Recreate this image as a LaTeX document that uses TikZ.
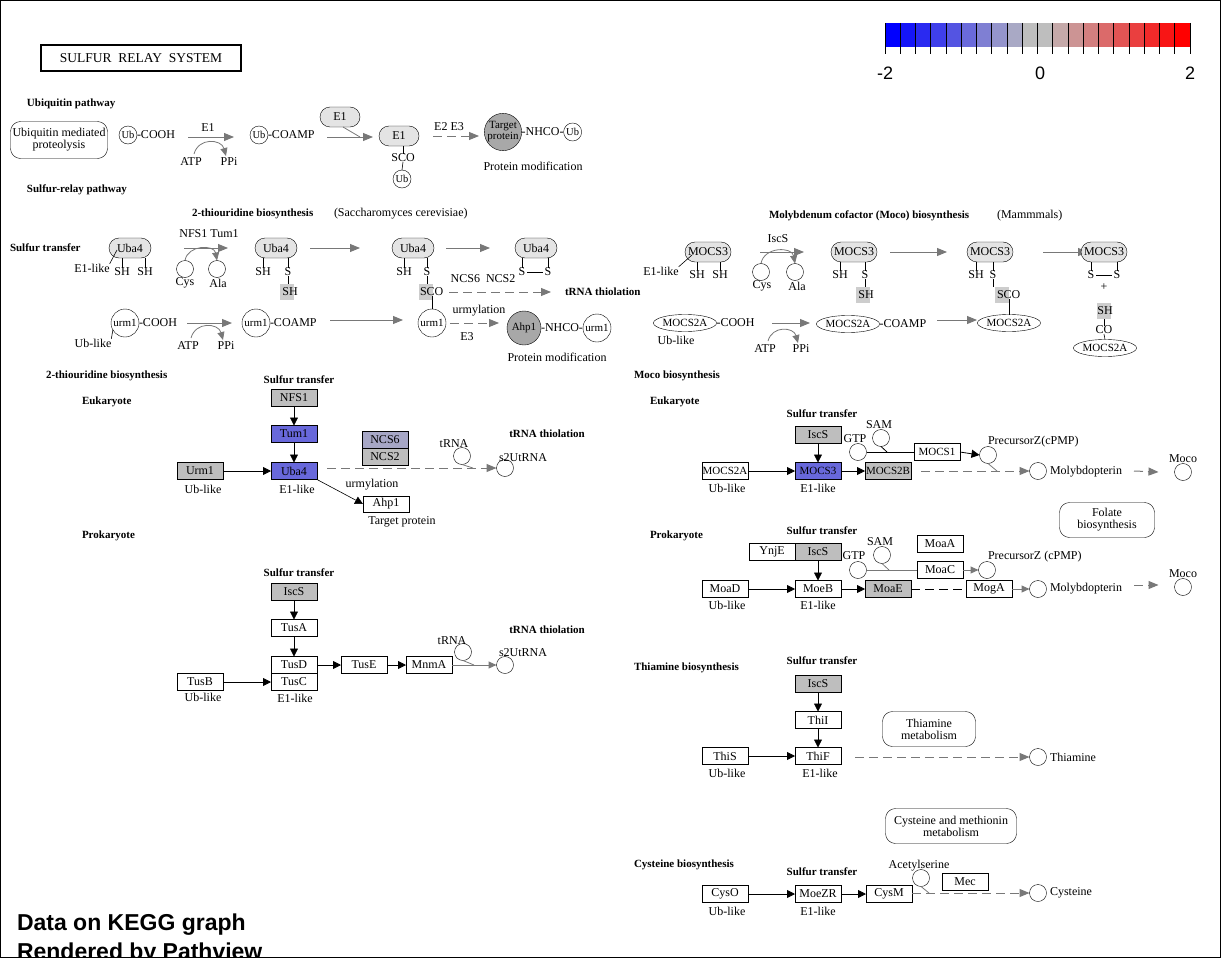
\documentclass[tikz,border=0pt]{standalone}
\usepackage{fontspec}
\setmainfont{Liberation Serif}
\newfontfamily\legendfont{Liberation Sans}
\usetikzlibrary{arrows.meta,shapes.misc,shapes.geometric,calc}

% colour scale of the gene data
\definecolor{kblue}{RGB}{0,0,255}
\definecolor{kgray}{RGB}{190,190,190}
\definecolor{kred}{RGB}{255,0,0}
\definecolor{linkgray}{RGB}{120,120,120}
\definecolor{pillgray}{RGB}{228,228,228}
\definecolor{ballgray}{RGB}{168,168,168}
\definecolor{siteshade}{RGB}{205,205,205}
\colorlet{geneblue}{kgray!55!kblue}
\colorlet{genepale}{kgray!88!kblue}

\newcommand\kfont{\fontsize{12}{12}\selectfont}
\newcommand\kmid{\fontsize{11}{11}\selectfont}
\newcommand\ksmall{\fontsize{10.5}{10.5}\selectfont}
\newcommand\kbold{\fontsize{11}{11}\selectfont\bfseries}

\tikzset{
  every node/.style={font=\kfont, inner sep=0pt, outer sep=0pt},
  gene/.style={draw, rectangle, minimum width=46pt, minimum height=17pt, fill=white},
  pill/.style={draw, rounded rectangle, minimum width=42pt, minimum height=20pt, fill=pillgray},
  cpd/.style={draw, circle, minimum size=17pt, fill=white},
  tagc/.style={draw, circle, minimum size=18pt, font=\ksmall},
  urmc/.style={draw, circle, minimum size=28pt, font=\kmid},
  bigball/.style={draw, circle, minimum size=34pt, fill=ballgray, font=\kmid, align=center},
  mocs/.style={draw, ellipse, minimum width=55pt, minimum height=17pt, font=\kmid},
  mapbox/.style={draw, rounded corners=10pt, minimum width=94pt, minimum height=34pt, align=center},
  hdr/.style={font=\kbold},
  site/.style={fill=siteshade, minimum width=14pt, minimum height=16pt},
  stem/.style={line width=0.6pt},
  rel/.style={-{Triangle[length=8pt,width=8pt]}, black, line width=0.8pt},
  flow/.style={-{Triangle[length=10pt,width=8pt]}, linkgray, line width=1pt},
  gflow/.style={-{Triangle[length=8pt,width=7pt]}, linkgray, line width=1pt},
  dflow/.style={flow, dash pattern=on 9pt off 5pt},
  curvy/.style={-{Triangle[length=8pt,width=7pt]}, linkgray, line width=0.8pt},
  joinline/.style={linkgray, line width=0.8pt},
}

\begin{document}
\begin{tikzpicture}[x=1pt,y=-1pt]
\useasboundingbox (0,0) rectangle (1221,958);

% ---------------- title and colour key ----------------
\node[draw, line width=1.5pt, minimum width=200pt, minimum height=26pt, font=\fontsize{13.5}{13.5}\selectfont] (title) at (141,58) {SULFUR\enspace RELAY\enspace SYSTEM};

\foreach \i in {1,...,20}{
  \pgfmathsetmacro\xa{885+(\i-1)*15.25}
  \pgfmathsetmacro\xb{\xa+15.25}
  \ifnum\i<11
    \pgfmathtruncatemacro\mixv{round((\i-1)*100/9)}
    \fill[kgray!\mixv!kblue] (\xa,23) rectangle (\xb,47);
  \else
    \pgfmathtruncatemacro\mixv{round((\i-11)*100/9)}
    \fill[kred!\mixv!kgray] (\xa,23) rectangle (\xb,47);
  \fi
}
\foreach \i in {0,...,20}{
  \pgfmathsetmacro\xa{885+\i*15.25}
  \draw[line width=0.8pt] (\xa,23) -- (\xa,54);
}
\node[font=\legendfont\fontsize{18}{18}\selectfont] (keylo) at (885,73) {-2};
\node[font=\legendfont\fontsize{18}{18}\selectfont] (keymid) at (1040,73) {0};
\node[font=\legendfont\fontsize{18}{18}\selectfont] (keyhi) at (1190,73) {2};

% ---------------- ubiquitin pathway ----------------
\node[hdr, anchor=west] (hubq) at (27,104) {Ubiquitin pathway};
\node[mapbox, minimum width=97pt, minimum height=37pt] (mapump) at (59,140) {Ubiquitin mediated\\proteolysis};
\node[tagc] (ub1) at (128,135) {Ub};
\node[anchor=west] (ub1t) at (ub1.east) {-COOH};
\coordinate (ua1) at (188,137);
\coordinate (ua2) at (234,137);
\draw[flow] (ua1) -- (ua2);
\node (ue1) at (208,128) {E1};
\node (uatp) at (191,162) {ATP};
\node (uppi) at (229,162) {PPi};
\draw[curvy] ($(uatp.north)+(3,-4)$) to[out=75,in=105,looseness=1.4] ($(uppi.north)+(-3,-2)$);
\node[tagc] (ub2) at (259,135) {Ub};
\node[anchor=west] (ub2t) at (ub2.east) {-COAMP};
\coordinate (ua3) at (327,137);
\coordinate (ua4) at (373,137);
\draw[flow] (ua3) -- (ua4);
\node[pill, minimum width=40pt] (ue1p) at (340,117) {E1};
\coordinate (ua5) at (360,137);
\draw[joinline] ($(ue1p.south)+(3,0)$) -- (ua5);
\node[pill, minimum width=40pt] (ue1q) at (399,136) {E1};
\node (usco) at (403,158) {SCO};
\node[tagc] (ub3) at (402,179) {Ub};
\draw[stem] (ue1q.south -| usco) -- (usco.north);
\draw[stem] (usco.south) -- (ub3.north);
\coordinate (ua6) at (433,136);
\coordinate (ua7) at (479,136);
\draw[dflow] (ua6) -- (ua7);
\node (ue23) at (449,127) {E2 E3};
\node[bigball] (utgt) at (503,132) {Target\\protein};
\node[anchor=west] (unhco) at (utgt.east) {-NHCO-};
\node[tagc, anchor=west] (ub4) at (unhco.east) {Ub};
\node (upmod) at (533,166) {Protein modification};

\node[hdr, anchor=west] (hsrp) at (27,190) {Sulfur-relay pathway};

% ---------------- 2-thiouridine biosynthesis (scheme) ----------------
\node[hdr, anchor=west] (h2ta) at (192,214) {2-thiouridine biosynthesis};
\node[anchor=west] (h2tb) at (334,214) {(Saccharomyces cerevisiae)};
\node[hdr, anchor=west] (hstu) at (10,248) {Sulfur transfer};

\node[pill] (tu1) at (130,248) {Uba4};
\node (tu1sa) at (122,272) {SH};
\node (tu1sb) at (145,272) {SH};
\draw[stem] (tu1.south -| tu1sa) -- (tu1sa.north);
\draw[stem] (tu1.south -| tu1sb) -- (tu1sb.north);
\node (tu1el) at (92,268) {E1-like};
\draw[stem] (tu1el.north east) -- ($(tu1.west)+(8,2)$);

\node (tnt) at (209,234) {NFS1 Tum1};
\coordinate (tf1a) at (184,248);
\coordinate (tf1b) at (228,248);
\draw[flow] (tf1a) -- (tf1b);
\node[cpd] (tcys) at (185,269) {};
\node[cpd] (tala) at (217,269) {};
\node (tcysl) at (185,283) {Cys};
\node (talal) at (218,283) {Ala};
\draw[curvy] (tcys.north) to[out=80,in=100,looseness=1.3] (tala.north);

\node[pill] (tu2) at (276,248) {Uba4};
\node (tu2sa) at (263,272) {SH};
\node (tu2sb) at (288,272) {S};
\draw[stem] (tu2.south -| tu2sa) -- (tu2sa.north);
\draw[stem] (tu2.south -| tu2sb) -- (tu2sb.north);
\node[site] (tu2hl) at (287,292) {};
\node (tu2sh) at (290,292) {SH};
\draw[stem] (tu2sb.south) -- (tu2hl.north -| tu2sb);

\coordinate (tf2a) at (310,248);
\coordinate (tf2b) at (360,248);
\draw[flow] (tf2a) -- (tf2b);

\node[pill] (tu3) at (413,248) {Uba4};
\node (tu3sa) at (404,272) {SH};
\node (tu3sb) at (427,272) {S};
\draw[stem] (tu3.south -| tu3sa) -- (tu3sa.north);
\draw[stem] (tu3.south -| tu3sb) -- (tu3sb.north);
\node[site] (tu3hl) at (426,292) {};
\node[anchor=west] (tu3sco) at (420,292) {SCO};
\draw[stem] (tu3sb.south) -- (tu3hl.north -| tu3sb);

\coordinate (tf3a) at (446,248);
\coordinate (tf3b) at (490,248);
\draw[flow] (tf3a) -- (tf3b);

\node[pill] (tu4) at (536,248) {Uba4};
\node (tu4sa) at (522,272) {S};
\node (tu4sb) at (548,272) {S};
\draw[stem] (tu4.south -| tu4sa) -- (tu4sa.north);
\draw[stem] (tu4.south -| tu4sb) -- (tu4sb.north);
\draw[stem] ($(tu4sa.east)+(2,0)$) -- ($(tu4sb.west)+(-2,0)$);

\node (tncs) at (483,279) {NCS6\enspace NCS2};
\coordinate (tf4a) at (449,292);
\coordinate (tf4b) at (551,292);
\draw[dflow] (tf4a) -- (tf4b);
\node[hdr, anchor=west] (htrna0) at (565,292) {tRNA thiolation};

\node[urmc] (tr1) at (125,323) {urm1};
\node[anchor=west] (tr1t) at (tr1.east) {-COOH};
\node (tr1ul) at (93,343) {Ub-like};
\draw[stem] (tr1ul.north east) -- (tr1.210);
\coordinate (tf5a) at (187,323);
\coordinate (tf5b) at (232,323);
\draw[flow] (tf5a) -- (tf5b);
\node (tatp) at (188,346) {ATP};
\node (tppi) at (226,346) {PPi};
\draw[curvy] ($(tatp.north)+(3,-4)$) to[out=75,in=105,looseness=1.4] ($(tppi.north)+(-3,-2)$);
\node[urmc] (tr2) at (256,323) {urm1};
\node[anchor=west] (tr2t) at (tr2.east) {-COAMP};
\coordinate (tf6a) at (330,320);
\coordinate (tf6b) at (403,320);
\draw[flow] (tf6a) -- (tf6b);
\node[urmc] (tr3) at (432,323) {urm1};
\draw[stem] (tu3sco.south -| tr3) -- (tr3.north);
\node (turm) at (479,311) {urmylation};
\coordinate (tf7a) at (450,323);
\coordinate (tf7b) at (499,323);
\draw[dflow] (tf7a) -- (tf7b);
\node (te3) at (467,337) {E3};
\node[bigball] (tahp) at (524,328) {Ahp1};
\node[anchor=west] (tnhco) at (tahp.east) {-NHCO-};
\node[urmc, anchor=west] (tr4) at (tnhco.east) {urm1};
\node (tpmod) at (557,357) {Protein modification};

% ---------------- Moco biosynthesis (scheme) ----------------
\node[hdr, anchor=west] (hmoa) at (769,216) {Molybdenum cofactor (Moco) biosynthesis};
\node[anchor=west] (hmob) at (997,216) {(Mammmals)};

\node[pill, minimum width=46pt] (mu1) at (708,252) {MOCS3};
\node (mu1sa) at (697,275) {SH};
\node (mu1sb) at (720,275) {SH};
\draw[stem] (mu1.south -| mu1sa) -- (mu1sa.north);
\draw[stem] (mu1.south -| mu1sb) -- (mu1sb.north);
\node (mu1el) at (661,271) {E1-like};
\draw[stem] (mu1el.north east) -- ($(mu1.west)+(7,3)$);

\node (misc) at (778,239) {IscS};
\coordinate (mf1a) at (760,252);
\coordinate (mf1b) at (804,252);
\draw[flow] (mf1a) -- (mf1b);
\node[cpd] (mcys) at (761,272) {};
\node[cpd] (mala) at (795,272) {};
\node (mcysl) at (762,286) {Cys};
\node (malal) at (797,286) {Ala};
\draw[curvy] (mcys.north) to[out=80,in=100,looseness=1.3] (mala.north);

\node[pill, minimum width=46pt] (mu2) at (854,252) {MOCS3};
\node (mu2sa) at (840,275) {SH};
\node (mu2sb) at (865,275) {S};
\draw[stem] (mu2.south -| mu2sa) -- (mu2sa.north);
\draw[stem] (mu2.south -| mu2sb) -- (mu2sb.north);
\node[site] (mu2hl) at (863,295) {};
\node (mu2sh) at (866,295) {SH};
\draw[stem] (mu2sb.south) -- (mu2hl.north -| mu2sb);

\coordinate (mf2a) at (890,252);
\coordinate (mf2b) at (947,252);
\draw[flow] (mf2a) -- (mf2b);

\node[pill, minimum width=46pt] (mu3) at (990,252) {MOCS3};
\node (mu3sa) at (976,275) {SH};
\node (mu3sb) at (993,275) {S};
\draw[stem] (mu3.south -| mu3sa) -- (mu3sa.north);
\draw[stem] (mu3.south -| mu3sb) -- (mu3sb.north);
\node[site] (mu3hl) at (1002,295) {};
\node[anchor=west] (mu3sco) at (997,295) {SCO};
\draw[stem] (mu3sb.south) -- (mu3hl.north -| mu3sb);

\coordinate (mf3a) at (1043,252);
\coordinate (mf3b) at (1088,252);
\draw[flow] (mf3a) -- (mf3b);

\node[pill, minimum width=46pt] (mu4) at (1104,252) {MOCS3};
\node (mu4sa) at (1091,275) {S};
\node (mu4sb) at (1117,275) {S};
\draw[stem] (mu4.south -| mu4sa) -- (mu4sa.north);
\draw[stem] (mu4.south -| mu4sb) -- (mu4sb.north);
\draw[stem] ($(mu4sa.east)+(2,0)$) -- ($(mu4sb.west)+(-2,0)$);
\node (mplus) at (1104,287) {+};
\node[site] (mu4hl) at (1104,311) {};
\node (mu4sh) at (1105,311) {SH};
\node (mu4co) at (1104,330) {CO};
\node[mocs] (mm4) at (1105,348) {MOCS2A};
\draw[stem] (mu4hl.south) -- (mu4co.north);
\draw[stem] (mu4co.south) -- (mm4.north);

\node[mocs] (mm1) at (685,323) {MOCS2A};
\node[anchor=west] (mm1t) at (mm1.east) {-COOH};
\node (mm1ul) at (676,340) {Ub-like};
\coordinate (mf4a) at (772,323);
\coordinate (mf4b) at (810,323);
\draw[flow] (mf4a) -- (mf4b);
\node (matp) at (765,349) {ATP};
\node (mppi) at (801,349) {PPi};
\draw[curvy] ($(matp.north)+(3,-4)$) to[out=75,in=105,looseness=1.4] ($(mppi.north)+(-3,-2)$);
\node[mocs] (mm2) at (848,324) {MOCS2A};
\node[anchor=west] (mm2t) at (mm2.east) {-COAMP};
\coordinate (mf5a) at (937,320);
\coordinate (mf5b) at (977,320);
\draw[flow] (mf5a) -- (mf5b);
\node[mocs] (mm3) at (1009,323) {MOCS2A};
\draw[stem] (mu3sco.south -| mm3) -- (mm3.north);

% ---------------- 2-thiouridine biosynthesis, eukaryote ----------------
\node[hdr, anchor=west] (h2tc) at (46,376) {2-thiouridine biosynthesis};
\node[hdr, anchor=west] (heuk1) at (82,402) {Eukaryote};
\node[hdr] (hst1) at (299,380) {Sulfur transfer};
\node[gene, fill=kgray] (nfs1) at (294,398) {NFS1};
\node[gene, fill=geneblue] (tum1) at (294,434) {Tum1};
\node[gene, fill=geneblue] (uba4) at (294,471) {Uba4};
\node[gene, fill=kgray] (urm1) at (200,471) {Urm1};
\node[gene, fill=genepale] (ncs6) at (385,440) {NCS6};
\node[gene, fill=kgray, anchor=north] (ncs2) at (ncs6.south) {NCS2};
\node[gene, minimum height=16pt] (ahp1) at (386,504) {Ahp1};
\node (uba4el) at (297,489) {E1-like};
\node (urm1ul) at (203,489) {Ub-like};
\node (urmy) at (372,485) {urmylation};
\node (ahp1tp) at (402,522) {Target protein};
\node[cpd] (trna1) at (462,456) {};
\node (trna1l) at (454,444) {tRNA};
\node[cpd] (s2u1) at (505,468) {};
\node[anchor=west] (s2u1l) at (499,458) {s2UtRNA};
\node[hdr] (htt1) at (547,434) {tRNA thiolation};
\draw[rel] (nfs1) -- (tum1);
\draw[rel] (tum1) -- (uba4);
\draw[rel] (urm1) -- (uba4);
\draw[rel, line width=0.6pt] (uba4.south east) -- (ahp1.west);
\draw[dflow] ($(uba4.east |- s2u1.west)+(10,0)$) -- (s2u1.west);
\coordinate (j1) at (473,468);
\draw[joinline] (trna1.south) -- (j1);

% ---------------- 2-thiouridine biosynthesis, prokaryote ----------------
\node[hdr, anchor=west] (hpro1) at (82,536) {Prokaryote};
\node[hdr] (hst2) at (299,573) {Sulfur transfer};
\node[gene, fill=kgray] (iscs1) at (294,592) {IscS};
\node[gene] (tusa) at (294,628) {TusA};
\node[gene] (tusd) at (294,665) {TusD};
\node[gene, anchor=north] (tusc) at (tusd.south) {TusC};
\node[gene] (tusb) at (200,682) {TusB};
\node[gene] (tuse) at (364,665) {TusE};
\node[gene] (mnma) at (429,665) {MnmA};
\node (tuscel) at (295,698) {E1-like};
\node (tusbul) at (203,697) {Ub-like};
\node[cpd] (trna2) at (463,652) {};
\node (trna2l) at (452,641) {tRNA};
\node[cpd] (s2u2) at (505,665) {};
\node[anchor=west] (s2u2l) at (499,653) {s2UtRNA};
\node[hdr] (htt2) at (547,630) {tRNA thiolation};
\draw[rel] (iscs1) -- (tusa);
\draw[rel] (tusa) -- (tusd);
\draw[rel] (tusd) -- (tuse);
\draw[rel] (tuse) -- (mnma);
\draw[rel] (tusb) -- (tusc);
\draw[gflow] (mnma.east) -- (s2u2.west);
\coordinate (j2) at (474,665);
\draw[joinline] (trna2.south) -- (j2);

% ---------------- Moco biosynthesis, eukaryote ----------------
\node[hdr, anchor=west] (hmoc) at (634,376) {Moco biosynthesis};
\node[hdr, anchor=west] (heuk2) at (650,402) {Eukaryote};
\node[hdr] (hst3) at (822,414) {Sulfur transfer};
\node[gene, fill=kgray] (iscs2) at (818,435) {IscS};
\node[gene, fill=geneblue, font=\kmid] (mocs3) at (818,471) {MOCS3};
\node[gene, font=\kmid] (mocs2a) at (725,471) {MOCS2A};
\node[gene, fill=kgray, font=\kmid] (mocs2b) at (888,471) {MOCS2B};
\node[gene, font=\kmid] (mocs1) at (937,452) {MOCS1};
\node (mocs3el) at (818,488) {E1-like};
\node (mocs2aul) at (727,488) {Ub-like};
\node[cpd] (sam1) at (881,438) {};
\node (sam1l) at (879,425) {SAM};
\node[cpd] (gtp1) at (858,452) {};
\node (gtp1l) at (855,439) {GTP};
\node[cpd] (pcz1) at (988,455) {};
\node[anchor=west] (pcz1l) at (988,442) {PrecursorZ(cPMP)};
\node[cpd] (mpt1) at (1038,471) {};
\node[anchor=west] (mpt1l) at (1050,472) {Molybdopterin};
\node[cpd] (moco1) at (1183,472) {};
\node (moco1l) at (1183,459) {Moco};
\draw[rel] (iscs2) -- (mocs3);
\draw[rel] (mocs2a) -- (mocs3);
\draw[rel] (mocs3) -- (mocs2b);
\draw[line width=0.8pt] (gtp1.east) -- (mocs1.west);
\coordinate (j3) at (887,452);
\draw[line width=0.8pt] (sam1.south) -- (j3);
\draw[rel] (mocs1.east) -- (pcz1.west);
\draw[dflow] ($(mocs2b.east)+(10,0)$) -- (mpt1.west);
\coordinate (j4) at (997,471);
\draw[joinline] (pcz1.south) -- (j4);
\draw[dflow] ($(mpt1l.east)+(12,-1)$) -- ($(moco1.west)+(-16,0)$);
\node[mapbox, minimum width=95pt, minimum height=35pt] (mapfol) at (1107,520) {Folate\\biosynthesis};

% ---------------- Moco biosynthesis, prokaryote ----------------
\node[hdr, anchor=west] (hpro2) at (650,536) {Prokaryote};
\node[hdr] (hst4) at (822,531) {Sulfur transfer};
\node[gene] (ynje) at (772,552) {YnjE};
\node[gene, fill=kgray, anchor=west] (iscs3) at (ynje.east) {IscS};
\node[gene] (moeb) at (818,589) {MoeB};
\node[gene] (moad) at (725,589) {MoaD};
\node[gene, fill=kgray] (moae) at (888,589) {MoaE};
\node[gene] (moaa) at (940,544) {MoaA};
\node[gene] (moac) at (940,570) {MoaC};
\node[gene] (moga) at (989,589) {MogA};
\node (moebel) at (818,605) {E1-like};
\node (moadul) at (727,605) {Ub-like};
\node[cpd] (sam2) at (882,555) {};
\node (sam2l) at (880,542) {SAM};
\node[cpd] (gtp2) at (858,570) {};
\node (gtp2l) at (854,556) {GTP};
\node[cpd] (pcz2) at (987,570) {};
\node[anchor=west] (pcz2l) at (988,557) {PrecursorZ (cPMP)};
\node[cpd] (mpt2) at (1038,589) {};
\node[anchor=west] (mpt2l) at (1050,589) {Molybdopterin};
\node[cpd] (moco2) at (1183,587) {};
\node (moco2l) at (1183,574) {Moco};
\draw[rel] (iscs3) -- (moeb);
\draw[rel] (moad) -- (moeb);
\draw[rel] (moeb) -- (moae);
\draw[joinline] (gtp2.east) -- (moac.west);
\coordinate (j5) at (889,570);
\draw[joinline] (sam2.south) -- (j5);
\draw[gflow] (moac.east) -- (pcz2.west);
\draw[line width=0.8pt, dash pattern=on 9pt off 5pt] (moae.east) -- (moga.west);
\draw[gflow] (moga.east) -- (mpt2.west);
\draw[dflow] ($(mpt2l.east)+(12,-4)$) -- ($(moco2.west)+(-16,-2)$);

% ---------------- thiamine biosynthesis ----------------
\node[hdr, anchor=west] (hthi) at (634,668) {Thiamine biosynthesis};
\node[hdr] (hst5) at (822,661) {Sulfur transfer};
\node[gene, fill=kgray] (iscs4) at (818,684) {IscS};
\node[gene] (thii) at (818,720) {ThiI};
\node[gene] (thif) at (818,756) {ThiF};
\node[gene] (this) at (725,756) {ThiS};
\node (thifel) at (820,773) {E1-like};
\node (thisul) at (727,773) {Ub-like};
\node[mapbox, minimum width=93pt, minimum height=35pt] (mapthi) at (929,729) {Thiamine\\metabolism};
\node[cpd] (thia) at (1038,757) {};
\node[anchor=west] (thial) at (1050,757) {Thiamine};
\draw[rel] (iscs4) -- (thii);
\draw[rel] (thii) -- (thif);
\draw[rel] (this) -- (thif);
\draw[dflow] ($(thif.east |- thia.west)+(14,0)$) -- (thia.west);

% ---------------- cysteine biosynthesis ----------------
\node[mapbox, minimum width=131pt, minimum height=35pt] (mapcys) at (951,826) {Cysteine and methionin\\metabolism};
\node[hdr, anchor=west] (hcys) at (634,865) {Cysteine biosynthesis};
\node[hdr] (hst6) at (822,872) {Sulfur transfer};
\node[gene] (cyso) at (725,894) {CysO};
\node[gene] (moezr) at (818,894) {MoeZR};
\node[gene] (cysm) at (889,894) {CysM};
\node[gene] (mec) at (965,882) {Mec};
\node (cysoul) at (727,911) {Ub-like};
\node (moezrel) at (818,911) {E1-like};
\node[cpd] (acs) at (921,878) {};
\node (acsl) at (919,866) {Acetylserine};
\node[cpd] (cyst) at (1038,893) {};
\node[anchor=west] (cystl) at (1050,893) {Cysteine};
\draw[rel] (cyso) -- (moezr);
\draw[rel] (moezr) -- (cysm);
\draw[dflow] (cysm.east |- cyst.west) -- (cyst.west);
\coordinate (j6) at (929,893);
\draw[joinline] (acs.south) -- (j6);

% ---------------- footer ----------------
\node[anchor=west, font=\legendfont\bfseries\fontsize{23}{23}\selectfont] (foot1) at (17,925) {Data on KEGG graph};
\node[anchor=west, font=\legendfont\bfseries\fontsize{23}{23}\selectfont] (foot2) at (17,954) {Rendered by Pathview};

\draw[line width=1pt] (0.5,0.5) rectangle (1220.5,957.5);
\end{tikzpicture}
\end{document}
